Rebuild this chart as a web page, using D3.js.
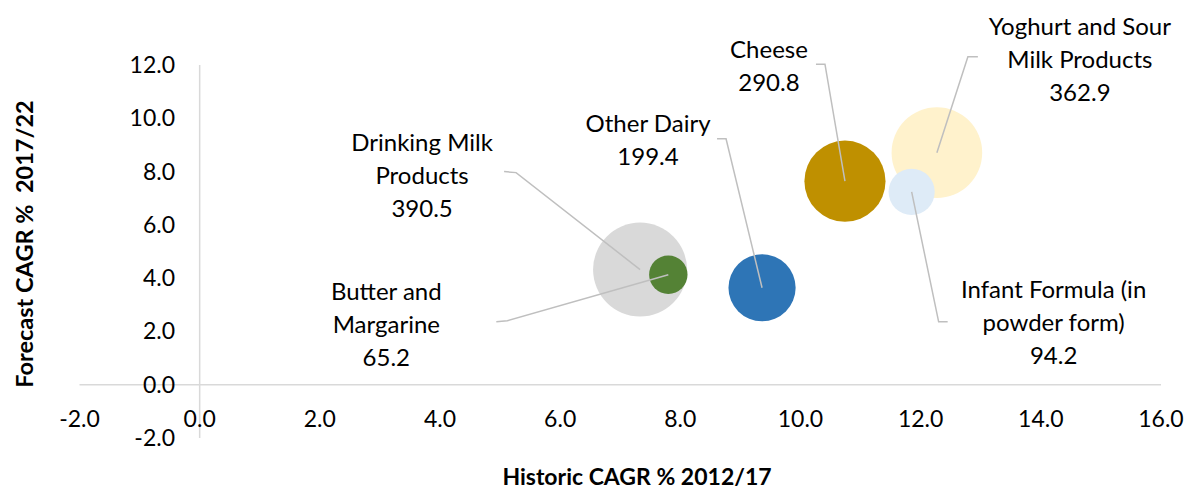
<!DOCTYPE html>
<html>
<head>
<meta charset="utf-8">
<script src="https://cdn.jsdelivr.net/npm/d3@7"></script>
<style>
  body { margin: 0; background: #fff; }
  text { font-family: Lato, "Open Sans", sans-serif; fill: #000; }
</style>
</head>
<body>
<div id="chart"></div>
<script>
// Dairy categories: historic vs forecast CAGR, bubble = market size
var categories = ["Drinking Milk Products", "Butter and Margarine", "Other Dairy",
                  "Cheese", "Yoghurt and Sour Milk Products", "Infant Formula (in powder form)"];
var historicCagr = [7.33, 7.80, 9.36, 10.74, 12.27, 11.85];
var forecastCagr = [4.32, 4.13, 3.64, 7.64, 8.71, 7.24];
var marketSize   = [390.5, 65.2, 199.4, 290.8, 362.9, 94.2];
var colors = ["#d9d9d9", "#548235", "#2e75b6", "#bf9000", "#fff2cc", "#deebf7"];

var xTicks = [-2, 0, 2, 4, 6, 8, 10, 12, 14, 16];
var yTicks = [-2, 0, 2, 4, 6, 8, 10, 12];

// label lines + where each label sits relative to its bubble (pixels)
var labelLines = [
  ["Drinking Milk", "Products", "390.5"],
  ["Butter and", "Margarine", "65.2"],
  ["Other Dairy", "199.4"],
  ["Cheese", "290.8"],
  ["Yoghurt and Sour", "Milk Products", "362.9"],
  ["Infant Formula (in", "powder form)", "94.2"]
];
var labelOffset = [[-218, -127], [-282, 17], [-114, -164], [-76, -132], [143, -126], [142, 98]];
var leaderOffset = [
  [[-136, -98], [-124, -97]],
  [[-172, 47], [-161, 46]],
  [[-45, -149], [-36, -149]],
  [[-29, -117], [-20, -117]],
  [[41, -96], [31, -96]],
  [[36, 130], [27, 130]]
];

var width = 1194, height = 491;

var svg = d3.select("#chart")
  .append("svg")
    .attr("width", width)
    .attr("height", height);

var x = d3.scaleLinear().domain([-2, 16]).range([79.5, 1161]);
var y = d3.scaleLinear().domain([-2, 12]).range([438, 65]);
var r = d3.scaleSqrt().domain([0, 390.5]).range([0, 47]);

// axis lines (cross at zero)
svg.append("line")
  .attr("x1", x(-2)).attr("x2", x(16))
  .attr("y1", y(0)).attr("y2", y(0))
  .style("stroke", "#d9d9d9").style("stroke-width", 1.5);
svg.append("line")
  .attr("x1", x(0)).attr("x2", x(0))
  .attr("y1", y(-2)).attr("y2", y(12))
  .style("stroke", "#d9d9d9").style("stroke-width", 1.5);

// tick labels
svg.selectAll(".xt")
  .data(xTicks)
  .enter().append("text")
    .attr("x", function(d) { return x(d); })
    .attr("y", 427)
    .attr("text-anchor", "middle")
    .style("font-size", "23px")
    .text(function(d) { return d.toFixed(1); });

svg.selectAll(".yt")
  .data(yTicks)
  .enter().append("text")
    .attr("x", 175)
    .attr("y", function(d) { return y(d) + 8; })
    .attr("text-anchor", "end")
    .style("font-size", "23px")
    .text(function(d) { return d.toFixed(1); });

// bubbles
var idx = d3.range(categories.length);
svg.selectAll("circle")
  .data(idx)
  .enter().append("circle")
    .attr("cx", function(i) { return x(historicCagr[i]); })
    .attr("cy", function(i) { return y(forecastCagr[i]); })
    .attr("r", function(i) { return r(marketSize[i]); })
    .style("fill", function(i) { return colors[i]; });

// leader lines
svg.selectAll(".leader")
  .data(idx)
  .enter().append("polyline")
    .attr("points", function(i) {
      var cx = x(historicCagr[i]), cy = y(forecastCagr[i]);
      var p = leaderOffset[i];
      return [[cx + p[0][0], cy + p[0][1]], [cx + p[1][0], cy + p[1][1]], [cx, cy]]
        .map(function(q) { return q.join(","); }).join(" ");
    })
    .style("fill", "none")
    .style("stroke", "#bfbfbf")
    .style("stroke-width", 1.5);

// data labels
idx.forEach(function(i) {
  var cx = x(historicCagr[i]) + labelOffset[i][0];
  var cy = y(forecastCagr[i]) + labelOffset[i][1];
  var t = svg.append("text")
    .attr("text-anchor", "middle")
    .style("font-size", "24px");
  labelLines[i].forEach(function(s, k) {
    t.append("tspan")
      .attr("x", cx)
      .attr("y", cy + 8.5 + k * 33)
      .text(s);
  });
});

// axis titles
svg.append("text")
  .attr("x", 637)
  .attr("y", 485)
  .attr("text-anchor", "middle")
  .style("font-size", "23px")
  .style("font-weight", "bold")
  .text("Historic CAGR % 2012/17");

svg.append("text")
  .attr("transform", "translate(33,244) rotate(-90)")
  .attr("text-anchor", "middle")
  .style("font-size", "23.5px")
  .style("font-weight", "bold")
  .style("white-space", "pre")
  .text("Forecast CAGR %  2017/22");
</script>
</body>
</html>
